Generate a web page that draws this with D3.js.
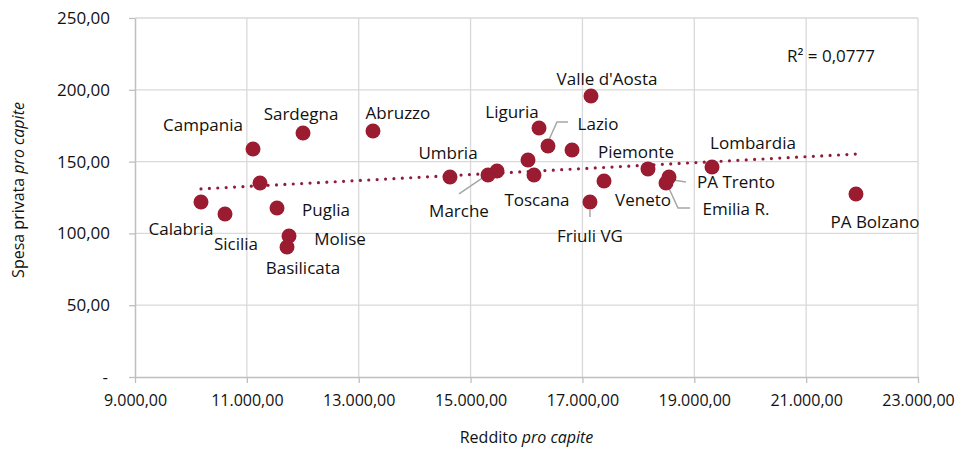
<!DOCTYPE html>
<html>
<head>
<meta charset="utf-8">
<script src="https://cdn.jsdelivr.net/npm/d3@7"></script>
<style>
  body { margin: 0; background: #fff; }
  text { font-family: "Open Sans", Lato, sans-serif; fill: #111; }
</style>
</head>
<body>
<div id="chart"></div>
<script>
// regions (empty name = point without label)
const regions = ["Calabria", "Sicilia", "Campania", "", "Sardegna", "Abruzzo", "Puglia", "Molise", "Basilicata",
    "Umbria", "Marche", "", "", "Toscana", "Liguria", "Lazio", "", "Valle d'Aosta", "Friuli VG",
    "Veneto", "Piemonte", "PA Trento", "Emilia R.", "Lombardia", "PA Bolzano"];
// reddito pro capite
const reddito = [10180, 10609, 11110, 11235, 12004, 13255, 11539, 11754, 11718,
    14632, 15312, 15473, 16027, 16134, 16224, 16384, 16814, 17153, 17135,
    17386, 18172, 18548, 18494, 19317, 21891];
// spesa privata pro capite
const spesa = [121.9, 113.5, 158.8, 135.1, 169.9, 171.3, 117.7, 98.2, 90.5,
    139.3, 140.7, 143.5, 151.1, 140.7, 173.4, 160.9, 158.1, 195.7, 121.9,
    136.5, 144.9, 139.3, 135.1, 146.2, 127.4];
const xTicks = [9000, 11000, 13000, 15000, 17000, 19000, 21000, 23000];
const yTicks = [0, 50, 100, 150, 200, 250];
const r2Text = "R² = 0,0777";

// label placement (pixel offset of label centre from its point)
const labelPos = {
    "Calabria": [-20, 27], "Sicilia": [11, 29], "Campania": [-50, -24], "Sardegna": [-2, -20],
    "Abruzzo": [25, -19], "Puglia": [49, 2], "Molise": [51, 3], "Basilicata": [16, 20],
    "Umbria": [-2, -24], "Marche": [-29, 36], "Toscana": [3, 25], "Liguria": [-27, -16],
    "Lazio": [50, -22], "Valle d'Aosta": [16, -17], "Friuli VG": [0, 34], "Veneto": [39, 19],
    "Piemonte": [-12, -17], "PA Trento": [67, 5], "Emilia R.": [70, 26], "Lombardia": [41, -25],
    "PA Bolzano": [19, 27]
};
// leader lines, points relative to the data point
const leaders = {
    "Marche": [[-29, 19], [-1, 0]],
    "Lazio": [[20, -24], [9, -24], [0, -4]],
    "Friuli VG": [[0, 8], [0, 15]],
    "PA Trento": [[17, 5], [4, 3]],
    "Emilia R.": [[24, 25], [12, 25], [1, 1]]
};

const data = regions.map((d, i) => ({name: d, x: reddito[i], y: spesa[i]}));

const width = 963, height = 449;
const margin = {top: 18, right: 45, bottom: 72, left: 135};
const iw = width - margin.left - margin.right;
const ih = height - margin.top - margin.bottom;

const it = d3.formatLocale({decimal: ",", thousands: ".", grouping: [3], currency: ["€", ""]});
const fmt = it.format(",.2f");

const svg = d3.select("#chart")
    .append("svg")
    .attr("width", width)
    .attr("height", height)
    .append("g")
    .attr("transform", `translate(${margin.left}, ${margin.top})`);

const x = d3.scaleLinear().domain([9000, 23000]).range([0, iw]);
const y = d3.scaleLinear().domain([0, 250]).range([ih, 0]);

const fontSize = "17px";
const grid = "#d9d9d9";

// gridlines
svg.append("g")
    .selectAll("line")
    .data(yTicks.slice(1))
    .join("line")
    .attr("x1", 0).attr("x2", iw)
    .attr("y1", d => y(d)).attr("y2", d => y(d))
    .attr("stroke", grid).attr("stroke-width", 1.3);
svg.append("g")
    .selectAll("line")
    .data(xTicks.slice(1))
    .join("line")
    .attr("x1", d => x(d)).attr("x2", d => x(d))
    .attr("y1", 0).attr("y2", ih)
    .attr("stroke", grid).attr("stroke-width", 1.3);

// X axis
const xAxis = svg.append("g")
    .attr("transform", `translate(0, ${ih})`)
    .call(d3.axisBottom(x).tickValues(xTicks).tickFormat(fmt).tickSize(6).tickPadding(12).tickSizeOuter(0));
xAxis.select(".domain").attr("stroke", "#bfbfbf").attr("stroke-width", 1.5);
xAxis.selectAll(".tick line").attr("stroke", "#bfbfbf").attr("stroke-width", 1.3);
xAxis.selectAll("text").style("font-size", "16px").style("font-family", "Open Sans").attr("fill", "#111");

// Y axis
const yAxis = svg.append("g")
    .call(d3.axisLeft(y).tickValues(yTicks).tickFormat(d => d === 0 ? "-" : fmt(d)).tickSize(6).tickPadding(19).tickSizeOuter(0));
yAxis.select(".domain").attr("stroke", "#bfbfbf").attr("stroke-width", 1.5);
yAxis.selectAll(".tick line").attr("stroke", "#bfbfbf").attr("stroke-width", 1.3);
yAxis.selectAll("text").style("font-size", fontSize).style("font-family", "Open Sans").attr("fill", "#111");
yAxis.selectAll(".tick").filter(d => d === 0).select("text").attr("dx", -2);

// axis titles
const xt = svg.append("text")
    .attr("x", iw / 2).attr("y", ih + 66)
    .attr("text-anchor", "middle")
    .style("font-size", "16px");
xt.append("tspan").text("Reddito ");
xt.append("tspan").style("font-style", "italic").text("pro capite");

const yt = svg.append("text")
    .attr("transform", `translate(${18 - margin.left}, ${190 - margin.top}) rotate(-90)`)
    .attr("text-anchor", "middle")
    .attr("dominant-baseline", "central")
    .style("font-size", "16px");
yt.append("tspan").text("Spesa privata ");
yt.append("tspan").style("font-style", "italic").text("pro capite");

// leader lines
svg.append("g")
    .selectAll("polyline")
    .data(data.filter(d => leaders[d.name]))
    .join("polyline")
    .attr("points", d => leaders[d.name].map(p => [x(d.x) + p[0], y(d.y) + p[1]].join(",")).join(" "))
    .attr("fill", "none")
    .attr("stroke", "#a6a6a6")
    .attr("stroke-width", 1.5);

// points
const red = "#9b1c31";
svg.append("g")
    .selectAll("circle")
    .data(data)
    .join("circle")
    .attr("cx", d => x(d.x))
    .attr("cy", d => y(d.y))
    .attr("r", 7.5)
    .attr("fill", red);

// linear trend
const mx = d3.mean(data, d => d.x), my = d3.mean(data, d => d.y);
const slope = d3.sum(data, d => (d.x - mx) * (d.y - my)) / d3.sum(data, d => (d.x - mx) ** 2);
const icpt = my - slope * mx;
const [x0, x1] = d3.extent(data, d => d.x);
svg.append("line")
    .attr("x1", x(x0)).attr("y1", y(icpt + slope * x0))
    .attr("x2", x(x1)).attr("y2", y(icpt + slope * x1))
    .attr("stroke", "#8e1d3b")
    .attr("stroke-width", 3.2)
    .attr("stroke-linecap", "round")
    .attr("stroke-dasharray", "0 8.4");

// labels
svg.append("g")
    .selectAll("text")
    .data(data.filter(d => d.name !== ""))
    .join("text")
    .attr("x", d => x(d.x) + labelPos[d.name][0])
    .attr("y", d => y(d.y) + labelPos[d.name][1])
    .attr("text-anchor", "middle")
    .attr("dominant-baseline", "central")
    .style("font-size", fontSize)
    .text(d => d.name);

// R squared
svg.append("text")
    .attr("x", 787 - margin.left)
    .attr("y", 55 - margin.top)
    .attr("dominant-baseline", "central")
    .style("font-size", fontSize)
    .text(r2Text);
</script>
</body>
</html>
